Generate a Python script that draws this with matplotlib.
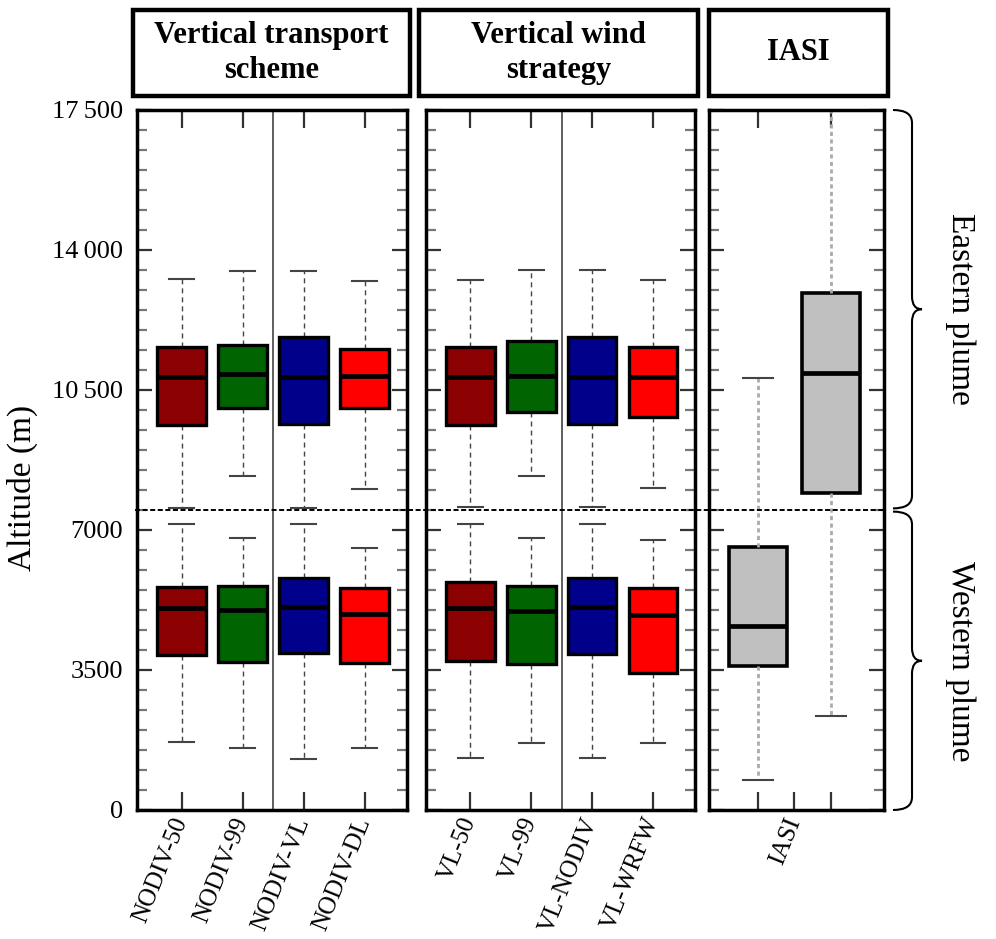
import matplotlib
matplotlib.use("Agg")
import matplotlib.pyplot as plt
from matplotlib.patches import Rectangle, PathPatch
from matplotlib.path import Path
from matplotlib.ticker import MultipleLocator
import matplotlib.transforms as mtransforms

plt.rcParams["font.family"] = ["Liberation Serif", "DejaVu Serif"]

# -- data (altitudes in m) -----------------------------------------------
scheme_labels = ["NODIV-50", "NODIV-99", "NODIV-VL", "NODIV-DL"]
wind_labels = ["VL-50", "VL-99", "VL-NODIV", "VL-WRFW"]
run_colors = ["#8B0000", "#006400", "#00008B", "#FF0000"]

# Eastern plume, vertical transport scheme
east_scheme_lo = [7560, 8350, 7560, 8030]
east_scheme_q1 = [9625, 10040, 9660, 10060]
east_scheme_med = [10830, 10890, 10830, 10860]
east_scheme_q3 = [11580, 11620, 11820, 11530]
east_scheme_hi = [13270, 13480, 13480, 13230]
# Western plume, vertical transport scheme
west_scheme_lo = [1710, 1560, 1280, 1560]
west_scheme_q1 = [3875, 3710, 3920, 3675]
west_scheme_med = [5050, 5000, 5075, 4900]
west_scheme_q3 = [5570, 5600, 5790, 5560]
west_scheme_hi = [7150, 6790, 7150, 6560]

# Eastern plume, vertical wind strategy
east_wind_lo = [7580, 8350, 7580, 8060]
east_wind_q1 = [9625, 9960, 9650, 9820]
east_wind_med = [10830, 10840, 10830, 10830]
east_wind_q3 = [11580, 11720, 11820, 11580]
east_wind_hi = [13250, 13490, 13490, 13250]
# Western plume, vertical wind strategy
west_wind_lo = [1290, 1670, 1290, 1670]
west_wind_q1 = [3720, 3650, 3910, 3420]
west_wind_med = [5050, 4975, 5080, 4870]
west_wind_q3 = [5700, 5610, 5800, 5560]
west_wind_hi = [7140, 6810, 7140, 6750]

# IASI: western plume (left box), eastern plume (right box)
iasi_lo = [740, 2340]
iasi_q1 = [3610, 7920]
iasi_med = [4610, 10930]
iasi_q3 = [6585, 12935]
iasi_hi = [10810, 18500]

plume_split = 7500
y_max = 17500
plume_names = ["Eastern plume", "Western plume"]
headers = ["Vertical transport\nscheme", "Vertical wind\nstrategy", "IASI"]


def stats(lo, q1, med, q3, hi):
    return [dict(whislo=a, q1=b, med=c, q3=d, whishi=e, fliers=[])
            for a, b, c, d, e in zip(lo, q1, med, q3, hi)]


W, H = 996, 939
fig = plt.figure(figsize=(W / 100, H / 100), dpi=100)


def px_axes(x0, x1, y0, y1):
    return fig.add_axes([x0 / W, 1 - y1 / H, (x1 - x0) / W, (y1 - y0) / H])


ax1 = px_axes(137, 407, 110, 810)
ax2 = px_axes(426, 695, 110, 810)
ax3 = px_axes(709, 884, 110, 810)

model_whisker = dict(color="#444444", lw=1.0, linestyle=(0, (3.6, 2.9)))
model_cap = dict(color="#444444", lw=1.5)
median_kw = dict(color="black", lw=3.4)


def draw_runs(ax, groups, labels):
    pos = [1, 2, 3, 4]
    for st in groups:
        bp = ax.bxp(st, positions=pos, widths=0.8, patch_artist=True,
                    showfliers=False, capwidths=0.41,
                    whiskerprops=model_whisker, capprops=model_cap,
                    medianprops=median_kw,
                    boxprops=dict(edgecolor="black", lw=2.4))
        for patch, c in zip(bp["boxes"], run_colors):
            patch.set_facecolor(c)
            patch.set_zorder(3)
        for m in bp["medians"]:
            m.set_zorder(4)
    ax.axvline(2.5, color="#444444", lw=1.2, zorder=1)
    ax.set_xlim(0.27, 4.69)
    ax.set_xticks(pos, labels)


draw_runs(ax1, [stats(east_scheme_lo, east_scheme_q1, east_scheme_med, east_scheme_q3, east_scheme_hi),
                stats(west_scheme_lo, west_scheme_q1, west_scheme_med, west_scheme_q3, west_scheme_hi)],
          scheme_labels)
draw_runs(ax2, [stats(east_wind_lo, east_wind_q1, east_wind_med, east_wind_q3, east_wind_hi),
                stats(west_wind_lo, west_wind_q1, west_wind_med, west_wind_q3, west_wind_hi)],
          wind_labels)

bp = ax3.bxp(stats(iasi_lo, iasi_q1, iasi_med, iasi_q3, iasi_hi), positions=[1, 2],
             widths=0.8, patch_artist=True, showfliers=False, capwidths=0.41,
             whiskerprops=dict(color="#AAAAAA", lw=2.0, linestyle=(0, (1.5, 1.2))),
             capprops=model_cap, medianprops=median_kw,
             boxprops=dict(edgecolor="black", lw=2.6, facecolor="#C0C0C0"))
ax3.set_xlim(0.33, 2.73)
ax3.set_xticks([1, 2], ["", ""])
ax3.set_xticks([1.5], ["IASI"], minor=True)

for ax in (ax1, ax2, ax3):
    ax.set_ylim(0, y_max)
    ax.set_yticks(range(0, y_max + 1, 3500))
    ax.yaxis.set_minor_locator(MultipleLocator(500))
    for s in ax.spines.values():
        s.set_linewidth(2.5)
    ax.tick_params(axis="y", which="major", direction="in", left=True, right=True,
                   length=11, width=1.6, color="#333333", pad=10, labelsize=19)
    ax.tick_params(axis="y", which="minor", direction="in", left=True, right=True,
                   length=7, width=1.6, color="#777777")
    ax.tick_params(axis="x", which="major", direction="in", top=True, bottom=True,
                   length=13, width=1.6, color="#333333", pad=6, labelsize=18)
    ax.tick_params(axis="x", which="minor", direction="in", top=False, bottom=True,
                   length=13, width=1.6, color="#333333", pad=6, labelsize=18)
    for lab in ax.get_xticklabels(which="both"):
        lab.set_rotation(68)
        lab.set_rotation_mode("anchor")
        lab.set_ha("right")
        lab.set_va("center")
    if ax is not ax1:
        ax.tick_params(axis="y", labelleft=False)

ax1.set_yticklabels(["0", "3500", "7000", "10\u2009500", "14\u2009000", "17\u2009500"])

# plume separation line across all panels
blend = mtransforms.blended_transform_factory(fig.transFigure, ax1.transData)
fig.add_artist(plt.Line2D([135 / W, 884 / W], [plume_split, plume_split], transform=blend,
                          color="black", lw=1.4, linestyle=(0, (2.6, 1.3)), zorder=5))

fig.text(22 / W, 1 - 488 / H, "Altitude (m)", rotation=90, ha="center", va="center", fontsize=24)

# header boxes
for (x0, x1), txt in zip([(133, 410), (419, 698), (709, 888)], headers):
    fig.add_artist(Rectangle((x0 / W, 1 - 96 / H), (x1 - x0) / W, 86 / H,
                             transform=fig.transFigure, fill=False, lw=3.2, edgecolor="black"))
    fig.text((x0 + x1) / 2 / W, 1 - 53 / H, txt, ha="center", va="center",
             fontsize=22, fontweight="bold", linespacing=1.3)

# curly braces with plume names
bt = mtransforms.blended_transform_factory(ax3.transAxes, ax3.transData)
xa, xb, xc = 1 + 9 / 175, 1 + 28 / 175, 1 + 38 / 175
r = 320
for (top, bot), name in zip([(y_max, plume_split + 40), (plume_split - 40, 0)], plume_names):
    mid = (top + bot) / 2
    verts = [(xa, top), (xb, top), (xb, top - r), (xb, mid + r), (xb, mid), (xc, mid),
             (xb, mid), (xb, mid - r), (xb, bot + r), (xb, bot), (xa, bot)]
    codes = [Path.MOVETO, Path.CURVE3, Path.CURVE3, Path.LINETO, Path.CURVE3, Path.CURVE3,
             Path.CURVE3, Path.CURVE3, Path.LINETO, Path.CURVE3, Path.CURVE3]
    ax3.add_patch(PathPatch(Path(verts, codes), transform=bt, fill=False, lw=1.5,
                            edgecolor="black", clip_on=False))
    ax3.text(1 + 76 / 175, mid, name, transform=bt, rotation=-90, ha="center", va="center",
             fontsize=24, clip_on=False)

fig.savefig("out.png", dpi=100)
